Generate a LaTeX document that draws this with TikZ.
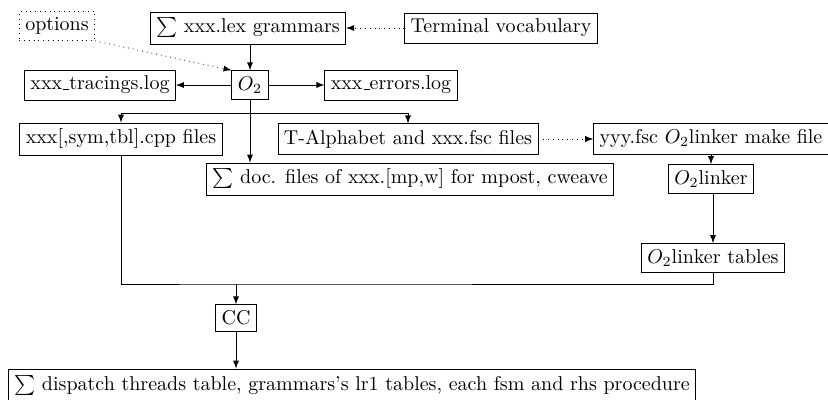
\documentclass[tikz,border=0pt]{standalone}
\usetikzlibrary{positioning}
\newcommand{\usc}{\kern.06em\vbox{\hrule width.3em}}
\begin{document}
\begin{tikzpicture}[x=0.5pt,y=-0.5pt,>=latex,
        box/.style={draw,inner sep=3pt},
        dotbox/.style={draw,dotted,inner sep=3pt}]
        \useasboundingbox (0,0) rectangle (828,400);
        \node[dotbox] (opt) at (57,26) {options};
        \node[box] (lex) at (248,28) {$\sum$ xxx.lex grammars};
        \node[box] (term) at (501,28) {Terminal vocabulary};
        \node[box] (O2) at (250,85) {$O_2$};
        \node[box] (trc) at (100,85) {xxx\usc tracings.log};
        \node[box] (err) at (391,85) {xxx\usc errors.log};
        \node[box] (cpp) at (121,139) {xxx[,sym,tbl].cpp files};
        \node[box] (alf) at (408,139) {T-Alphabet and xxx.fsc files};
        \node[box] (mk) at (711,139) {yyy.fsc $O_2$linker make file};
        \node[box] (doc) at (410,179) {$\sum$ doc. files of xxx.[mp,w] for mpost, cweave};
        \node[box] (lnk) at (711,179) {$O_2$linker};
        \node[box] (tbl) at (713,258) {$O_2$linker tables};
        \node[box] (cc) at (236,318) {CC};
        \node[box] (out) at (352,385) {$\sum$ dispatch threads table, grammars's lr1 tables, each fsm and rhs procedure};
        \coordinate (J) at (250,113);
        \coordinate (K) at (236,284);
        % inputs
        \draw[dotted,->] (term) -- (lex);
        \draw[dotted,->] (opt.south east) -- (O2.north west);
        \draw[->] (O2 |- lex.south) -- (O2);
        \draw[->] (O2) -- (trc);
        \draw[->] (O2) -- (err);
        % outputs of O2
        \draw (O2) -- (J);
        \draw[->] (J) -| (cpp);
        \draw[->] (J) -| (alf);
        \draw[->] (J) -- (J |- doc.north);
        \draw[dotted,->] (alf) -- (mk);
        \draw[->] (mk.south -| lnk) -- (lnk);
        \draw[->] (lnk.south -| tbl) -- (tbl);
        % compile
        \draw (cpp) |- (K) -| (tbl);
        \draw[->] (K) -- (cc);
        \draw[->] (cc) -- (cc |- out.north);
\end{tikzpicture}
\end{document}
